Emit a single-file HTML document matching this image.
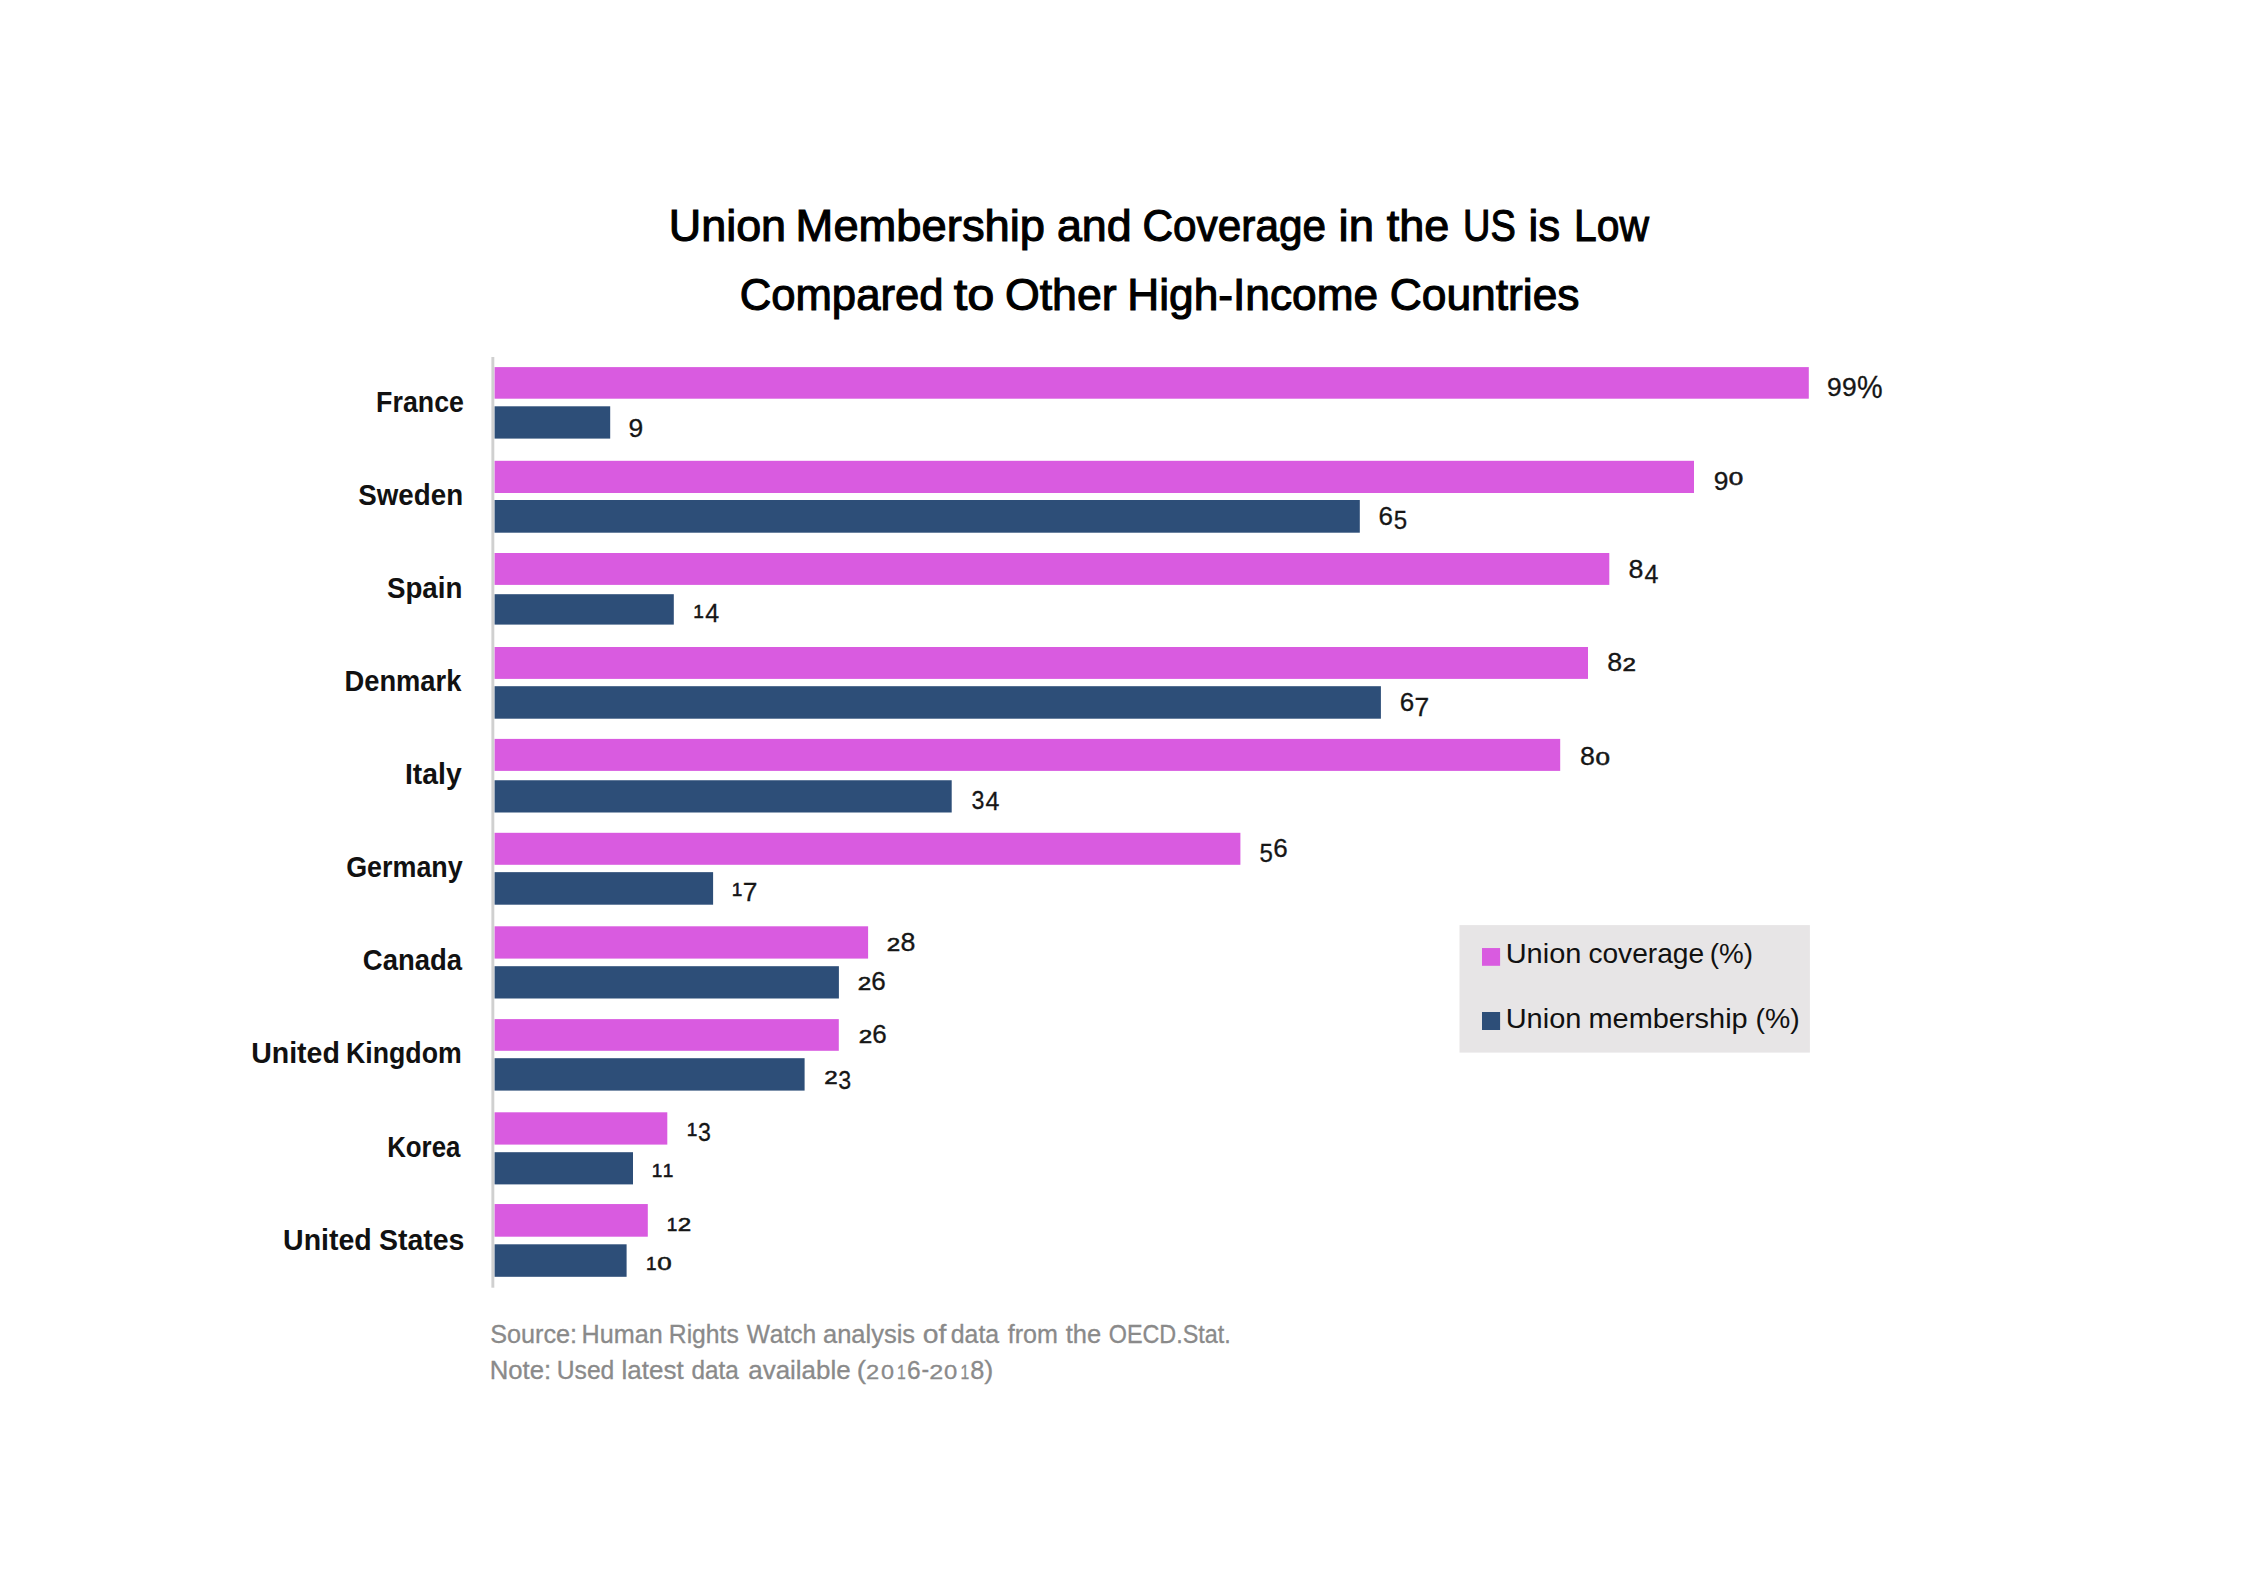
<!DOCTYPE html>
<html lang="en"><head><meta charset="utf-8"><title>Union Membership and Coverage in the US is Low Compared to Other High-Income Countries</title>
<style>
html,body{margin:0;padding:0;background:#fff;}
body{width:2260px;height:1580px;overflow:hidden;}
svg{display:block;}
text{font-family:"Liberation Sans",sans-serif;font-kerning:none;font-variant-ligatures:none;}
.t{font-size:44.6px;fill:#000;stroke:#000;stroke-width:1.1px;}
.c{font-size:29.2px;font-weight:bold;fill:#111;}
.l{font-size:28.3px;fill:#111;}
.f{font-size:24.9px;fill:#8a8a8a;stroke:#8a8a8a;stroke-width:0.3px;}
.n{fill:#161616;stroke:#161616;stroke-width:0.3px;}
.x{stroke-width:0.55px;}
</style></head><body>
<svg width="2260" height="1580" viewBox="0 0 2260 1580" role="img" aria-label="Bar chart of union coverage and union membership by country">
<rect width="2260" height="1580" fill="#fff"/>
<!-- title -->
<text class="t" y="240.60"><tspan x="668.79" textLength="117.28" lengthAdjust="spacingAndGlyphs">Union</tspan> <tspan x="795.63" textLength="249.42" lengthAdjust="spacingAndGlyphs">Membership</tspan> <tspan x="1056.95" textLength="74.79" lengthAdjust="spacingAndGlyphs">and</tspan> <tspan x="1142.50" textLength="183.53" lengthAdjust="spacingAndGlyphs">Coverage</tspan> <tspan x="1338.61" textLength="35.40" lengthAdjust="spacingAndGlyphs">in</tspan> <tspan x="1386.67" textLength="62.58" lengthAdjust="spacingAndGlyphs">the</tspan> <tspan x="1463.02" textLength="52.77" lengthAdjust="spacingAndGlyphs">US</tspan> <tspan x="1528.62" textLength="31.61" lengthAdjust="spacingAndGlyphs">is</tspan> <tspan x="1574.00" textLength="74.85" lengthAdjust="spacingAndGlyphs">Low</tspan></text>
<text class="t" y="309.70"><tspan x="739.63" textLength="203.93" lengthAdjust="spacingAndGlyphs">Compared</tspan> <tspan x="953.71" textLength="40.69" lengthAdjust="spacingAndGlyphs">to</tspan> <tspan x="1004.93" textLength="111.76" lengthAdjust="spacingAndGlyphs">Other</tspan> <tspan x="1127.32" textLength="250.90" lengthAdjust="spacingAndGlyphs">High-Income</tspan> <tspan x="1389.70" textLength="189.86" lengthAdjust="spacingAndGlyphs">Countries</tspan></text>
<!-- axis -->
<rect x="491.4" y="357" width="2.9" height="930.7" fill="#d0d0d0"/>
<!-- France -->
<rect x="494.6" y="367.10" width="1314.2" height="31.60" fill="#D95BE0"/>
<rect x="494.6" y="406.30" width="115.6" height="32.30" fill="#2D4E78"/>
<text class="c" y="411.70"><tspan x="376.11" textLength="87.81" lengthAdjust="spacingAndGlyphs">France</tspan></text>
<text class="n"><tspan x="1827.06" y="396.15" font-size="25.28" textLength="14.69" lengthAdjust="spacingAndGlyphs">9</tspan><tspan x="1841.96" y="396.15" font-size="25.28" textLength="14.69" lengthAdjust="spacingAndGlyphs">9</tspan><tspan x="1857.07" y="397.82" font-size="30.73" textLength="25.66" lengthAdjust="spacingAndGlyphs">%</tspan></text>
<text class="n"><tspan x="628.56" y="436.85" font-size="25.28" textLength="14.69" lengthAdjust="spacingAndGlyphs">9</tspan></text>
<!-- Sweden -->
<rect x="494.6" y="460.80" width="1199.4" height="32.20" fill="#D95BE0"/>
<rect x="494.6" y="500.00" width="865.2" height="32.70" fill="#2D4E78"/>
<text class="c" y="504.80"><tspan x="358.30" textLength="104.82" lengthAdjust="spacingAndGlyphs">Sweden</tspan></text>
<text class="n"><tspan x="1713.76" y="489.75" font-size="25.28" textLength="14.69" lengthAdjust="spacingAndGlyphs">9</tspan><tspan class="x" x="1728.89" y="485.02" font-size="18.22" textLength="14.43" lengthAdjust="spacingAndGlyphs">0</tspan></text>
<text class="n"><tspan x="1378.58" y="524.55" font-size="25.42" textLength="14.46" lengthAdjust="spacingAndGlyphs">6</tspan><tspan x="1393.64" y="529.25" font-size="25.65" textLength="13.37" lengthAdjust="spacingAndGlyphs">5</tspan></text>
<!-- Spain -->
<rect x="494.6" y="553.00" width="1114.7" height="31.90" fill="#D95BE0"/>
<rect x="494.6" y="594.20" width="179.2" height="30.40" fill="#2D4E78"/>
<text class="c" y="597.90"><tspan x="386.90" textLength="75.52" lengthAdjust="spacingAndGlyphs">Spain</tspan></text>
<text class="n"><tspan x="1628.63" y="578.35" font-size="25.42" textLength="14.93" lengthAdjust="spacingAndGlyphs">8</tspan><tspan x="1644.53" y="583.30" font-size="26.02" textLength="13.91" lengthAdjust="spacingAndGlyphs">4</tspan></text>
<text class="n"><tspan class="x" x="693.35" y="617.60" font-size="18.75" textLength="10.58" lengthAdjust="spacingAndGlyphs">1</tspan><tspan x="705.13" y="622.40" font-size="26.02" textLength="13.91" lengthAdjust="spacingAndGlyphs">4</tspan></text>
<!-- Denmark -->
<rect x="494.6" y="647.00" width="1093.4" height="31.90" fill="#D95BE0"/>
<rect x="494.6" y="686.20" width="886.3" height="32.50" fill="#2D4E78"/>
<text class="c" y="691.00"><tspan x="344.47" textLength="116.90" lengthAdjust="spacingAndGlyphs">Denmark</tspan></text>
<text class="n"><tspan x="1607.33" y="671.25" font-size="25.42" textLength="14.93" lengthAdjust="spacingAndGlyphs">8</tspan><tspan class="x" x="1622.59" y="671.40" font-size="18.47" textLength="13.43" lengthAdjust="spacingAndGlyphs">2</tspan></text>
<text class="n"><tspan x="1399.78" y="710.95" font-size="25.42" textLength="14.46" lengthAdjust="spacingAndGlyphs">6</tspan><tspan x="1414.45" y="715.90" font-size="26.02" textLength="14.68" lengthAdjust="spacingAndGlyphs">7</tspan></text>
<!-- Italy -->
<rect x="494.6" y="738.90" width="1065.6" height="32.00" fill="#D95BE0"/>
<rect x="494.6" y="780.25" width="457.1" height="32.25" fill="#2D4E78"/>
<text class="c" y="784.10"><tspan x="405.01" textLength="56.65" lengthAdjust="spacingAndGlyphs">Italy</tspan></text>
<text class="n"><tspan x="1580.03" y="765.15" font-size="25.42" textLength="14.93" lengthAdjust="spacingAndGlyphs">8</tspan><tspan class="x" x="1595.49" y="765.12" font-size="18.22" textLength="14.43" lengthAdjust="spacingAndGlyphs">0</tspan></text>
<text class="n"><tspan x="971.42" y="809.25" font-size="25.28" textLength="12.90" lengthAdjust="spacingAndGlyphs">3</tspan><tspan x="985.43" y="809.50" font-size="26.02" textLength="13.91" lengthAdjust="spacingAndGlyphs">4</tspan></text>
<!-- Germany -->
<rect x="494.6" y="832.80" width="745.8" height="32.00" fill="#D95BE0"/>
<rect x="494.6" y="872.15" width="218.5" height="32.55" fill="#2D4E78"/>
<text class="c" y="877.20"><tspan x="346.20" textLength="116.55" lengthAdjust="spacingAndGlyphs">Germany</tspan></text>
<text class="n"><tspan x="1259.44" y="861.95" font-size="25.65" textLength="13.37" lengthAdjust="spacingAndGlyphs">5</tspan><tspan x="1273.18" y="857.25" font-size="25.42" textLength="14.46" lengthAdjust="spacingAndGlyphs">6</tspan></text>
<text class="n"><tspan class="x" x="731.85" y="896.40" font-size="18.75" textLength="10.58" lengthAdjust="spacingAndGlyphs">1</tspan><tspan x="742.85" y="901.20" font-size="26.02" textLength="14.68" lengthAdjust="spacingAndGlyphs">7</tspan></text>
<!-- Canada -->
<rect x="494.6" y="926.30" width="373.5" height="32.30" fill="#D95BE0"/>
<rect x="494.6" y="966.20" width="344.3" height="32.30" fill="#2D4E78"/>
<text class="c" y="970.30"><tspan x="362.87" textLength="99.15" lengthAdjust="spacingAndGlyphs">Canada</tspan></text>
<text class="n"><tspan class="x" x="886.79" y="950.90" font-size="18.47" textLength="13.43" lengthAdjust="spacingAndGlyphs">2</tspan><tspan x="900.53" y="950.75" font-size="25.42" textLength="14.93" lengthAdjust="spacingAndGlyphs">8</tspan></text>
<text class="n"><tspan class="x" x="857.69" y="990.40" font-size="18.47" textLength="13.43" lengthAdjust="spacingAndGlyphs">2</tspan><tspan x="871.28" y="990.25" font-size="25.42" textLength="14.46" lengthAdjust="spacingAndGlyphs">6</tspan></text>
<!-- United Kingdom -->
<rect x="494.6" y="1019.10" width="344.2" height="31.70" fill="#D95BE0"/>
<rect x="494.6" y="1058.20" width="310.0" height="32.40" fill="#2D4E78"/>
<text class="c" y="1063.40"><tspan x="251.19" textLength="88.69" lengthAdjust="spacingAndGlyphs">United</tspan> <tspan x="346.12" textLength="115.54" lengthAdjust="spacingAndGlyphs">Kingdom</tspan></text>
<text class="n"><tspan class="x" x="858.69" y="1043.00" font-size="18.47" textLength="13.43" lengthAdjust="spacingAndGlyphs">2</tspan><tspan x="872.28" y="1042.85" font-size="25.42" textLength="14.46" lengthAdjust="spacingAndGlyphs">6</tspan></text>
<text class="n"><tspan class="x" x="824.29" y="1084.20" font-size="18.47" textLength="13.43" lengthAdjust="spacingAndGlyphs">2</tspan><tspan x="838.32" y="1088.75" font-size="25.28" textLength="12.90" lengthAdjust="spacingAndGlyphs">3</tspan></text>
<!-- Korea -->
<rect x="494.6" y="1112.30" width="172.7" height="32.30" fill="#D95BE0"/>
<rect x="494.6" y="1152.20" width="138.4" height="32.20" fill="#2D4E78"/>
<text class="c" y="1156.50"><tspan x="387.17" textLength="73.27" lengthAdjust="spacingAndGlyphs">Korea</tspan></text>
<text class="n"><tspan class="x" x="686.65" y="1136.30" font-size="18.75" textLength="10.58" lengthAdjust="spacingAndGlyphs">1</tspan><tspan x="698.12" y="1140.85" font-size="25.28" textLength="12.90" lengthAdjust="spacingAndGlyphs">3</tspan></text>
<text class="n"><tspan class="x" x="651.75" y="1176.60" font-size="18.75" textLength="10.58" lengthAdjust="spacingAndGlyphs">1</tspan><tspan class="x" x="662.65" y="1176.60" font-size="18.75" textLength="10.58" lengthAdjust="spacingAndGlyphs">1</tspan></text>
<!-- United States -->
<rect x="494.6" y="1204.05" width="153.2" height="32.65" fill="#D95BE0"/>
<rect x="494.6" y="1244.30" width="132.0" height="32.50" fill="#2D4E78"/>
<text class="c" y="1249.60"><tspan x="283.09" textLength="88.69" lengthAdjust="spacingAndGlyphs">United</tspan> <tspan x="378.98" textLength="85.49" lengthAdjust="spacingAndGlyphs">States</tspan></text>
<text class="n"><tspan class="x" x="666.75" y="1230.70" font-size="18.75" textLength="10.58" lengthAdjust="spacingAndGlyphs">1</tspan><tspan class="x" x="677.89" y="1230.70" font-size="18.47" textLength="13.43" lengthAdjust="spacingAndGlyphs">2</tspan></text>
<text class="n"><tspan class="x" x="646.05" y="1270.20" font-size="18.75" textLength="10.58" lengthAdjust="spacingAndGlyphs">1</tspan><tspan class="x" x="657.39" y="1270.02" font-size="18.22" textLength="14.43" lengthAdjust="spacingAndGlyphs">0</tspan></text>
<!-- legend -->
<rect x="1459.5" y="925.1" width="350.4" height="127.5" fill="#e7e5e6"/>
<rect x="1482" y="948.05" width="18.1" height="17.75" fill="#D95BE0"/>
<rect x="1482" y="1012" width="18.1" height="18" fill="#2D4E78"/>
<text class="l" y="963.40"><tspan x="1505.66" textLength="75.72" lengthAdjust="spacingAndGlyphs">Union</tspan> <tspan x="1588.40" textLength="115.75" lengthAdjust="spacingAndGlyphs">coverage</tspan> <tspan x="1709.78" textLength="43.25" lengthAdjust="spacingAndGlyphs">(%)</tspan></text>
<text class="l" y="1027.70"><tspan x="1505.66" textLength="75.72" lengthAdjust="spacingAndGlyphs">Union</tspan> <tspan x="1588.48" textLength="159.24" lengthAdjust="spacingAndGlyphs">membership</tspan> <tspan x="1755.54" textLength="44.23" lengthAdjust="spacingAndGlyphs">(%)</tspan></text>
<!-- source note -->
<text class="f" y="1342.60"><tspan x="490.21" textLength="86.85" lengthAdjust="spacingAndGlyphs">Source:</tspan> <tspan x="581.59" textLength="81.10" lengthAdjust="spacingAndGlyphs">Human</tspan> <tspan x="668.83" textLength="69.91" lengthAdjust="spacingAndGlyphs">Rights</tspan> <tspan x="746.64" textLength="69.60" lengthAdjust="spacingAndGlyphs">Watch</tspan> <tspan x="822.97" textLength="92.10" lengthAdjust="spacingAndGlyphs">analysis</tspan> <tspan x="922.76" textLength="23.65" lengthAdjust="spacingAndGlyphs">of</tspan> <tspan x="950.81" textLength="48.34" lengthAdjust="spacingAndGlyphs">data</tspan> <tspan x="1007.69" textLength="50.21" lengthAdjust="spacingAndGlyphs">from</tspan> <tspan x="1065.66" textLength="35.42" lengthAdjust="spacingAndGlyphs">the</tspan> <tspan x="1108.74" textLength="122.04" lengthAdjust="spacingAndGlyphs">OECD.Stat.</tspan></text>
<text class="f" y="1378.90"><tspan x="489.74" textLength="61.46" lengthAdjust="spacingAndGlyphs">Note:</tspan> <tspan x="556.75" textLength="57.59" lengthAdjust="spacingAndGlyphs">Used</tspan> <tspan x="621.60" textLength="62.04" lengthAdjust="spacingAndGlyphs">latest</tspan> <tspan x="691.43" textLength="47.22" lengthAdjust="spacingAndGlyphs">data</tspan> <tspan x="748.25" textLength="102.35" lengthAdjust="spacingAndGlyphs">available</tspan> <tspan x="856.87" y="1378.90" textLength="9.29" lengthAdjust="spacingAndGlyphs">(</tspan><tspan x="865.91" y="1379.05" font-size="20.41" textLength="13.18" lengthAdjust="spacingAndGlyphs">2</tspan><tspan x="880.98" y="1378.85" font-size="20.13" textLength="13.03" lengthAdjust="spacingAndGlyphs">0</tspan><tspan x="897.00" y="1379.05" font-size="20.71" textLength="8.77" lengthAdjust="spacingAndGlyphs">1</tspan><tspan x="907.06" y="1378.80" font-size="26.06" textLength="13.62" lengthAdjust="spacingAndGlyphs">6</tspan><tspan x="921.38" y="1378.30" textLength="7.64" lengthAdjust="spacingAndGlyphs">-</tspan><tspan x="929.23" y="1379.05" font-size="20.41" textLength="14.04" lengthAdjust="spacingAndGlyphs">2</tspan><tspan x="944.07" y="1378.85" font-size="20.13" textLength="13.26" lengthAdjust="spacingAndGlyphs">0</tspan><tspan x="960.60" y="1379.05" font-size="20.71" textLength="8.77" lengthAdjust="spacingAndGlyphs">1</tspan><tspan x="970.20" y="1378.80" font-size="26.06" textLength="14.10" lengthAdjust="spacingAndGlyphs">8</tspan><tspan x="984.24" y="1378.90" textLength="9.04" lengthAdjust="spacingAndGlyphs">)</tspan></text>
</svg></body></html>
